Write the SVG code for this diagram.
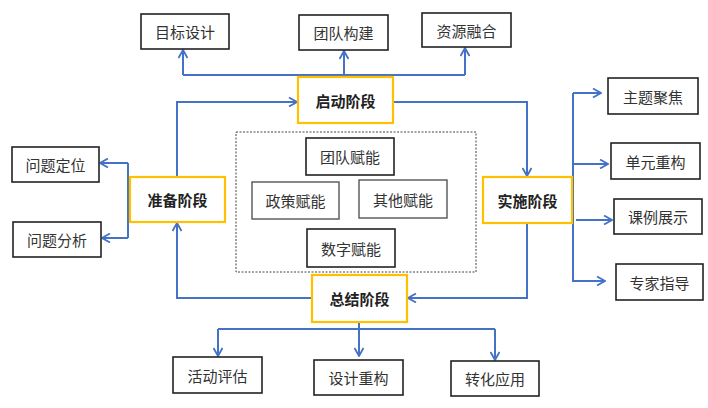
<svg xmlns="http://www.w3.org/2000/svg" width="708" height="408" viewBox="0 0 708 408">
<defs>
<style>
.box{fill:#fff;stroke:#222;stroke-width:1.6}
.gbox{fill:#fff;stroke:#555;stroke-width:1.4}
.stage{fill:#fff;stroke:#FFC000;stroke-width:2.2}
.t{font-family:"Noto Sans CJK SC","Noto Sans",sans-serif;font-size:15px;fill:#333;text-anchor:middle;dominant-baseline:central}
.st{font-family:"Noto Sans CJK SC","Noto Sans",sans-serif;font-size:15px;font-weight:bold;fill:#222;text-anchor:middle;dominant-baseline:central}
.c{fill:none;stroke:#4472C4;stroke-width:2}
.a{marker-end:url(#arr)}
</style>
<marker id="arr" viewBox="0 0 10 10" refX="9" refY="5" markerWidth="10" markerHeight="10" markerUnits="userSpaceOnUse" orient="auto">
<path d="M1,0.5 L9,5 L1,9.5" fill="none" stroke="#4472C4" stroke-width="1.8"/>
</marker>
</defs>
<rect width="708" height="408" fill="#fff"/>
<g id="connectors">
<path class="c" d="M183,75 H465"/>
<path class="c a" d="M183,75 V50"/>
<path class="c a" d="M465,75 V48"/>
<path class="c a" d="M344,77 V51"/>
<path class="c a" d="M177,177 V102 H297"/>
<path class="c a" d="M393,102 H527 V176"/>
<path class="c a" d="M527,223 V298 H408"/>
<path class="c a" d="M312,298 H177 V223"/>
<path class="c" d="M128,163 V238"/>
<path class="c a" d="M128,163 H100"/>
<path class="c a" d="M128,238 H102"/>
<path class="c" d="M573,93 V282"/>
<path class="c a" d="M573,93 H601"/>
<path class="c a" d="M573,164 H608"/>
<path class="c a" d="M576,220 H612"/>
<path class="c a" d="M573,281 H605"/>
<path class="c a" d="M359,322 V356"/>
<path class="c" d="M218,329 H495"/>
<path class="c a" d="M218,329 V356"/>
<path class="c a" d="M495,329 V360"/>
</g>
<rect id="enable-area" x="236" y="132" width="240" height="140" fill="none" stroke="#444" stroke-width="1" stroke-dasharray="2,1.5"/>
<g id="n-mubiao"><rect class="box" x="141" y="14" width="88" height="35"/><text class="t" x="185" y="31.5">目标设计</text></g>
<g id="n-tuandui"><rect class="box" x="299" y="15" width="89" height="35"/><text class="t" x="343.5" y="32.5">团队构建</text></g>
<g id="n-ziyuan"><rect class="box" x="422" y="13" width="89" height="34"/><text class="t" x="466.5" y="30">资源融合</text></g>
<g id="n-qidong"><rect class="stage" x="298" y="77" width="95" height="46"/><text class="st" x="345.5" y="100">启动阶段</text></g>
<g id="n-zhunbei"><rect class="stage" x="130" y="177" width="95" height="45"/><text class="st" x="177.5" y="199.5">准备阶段</text></g>
<g id="n-shishi"><rect class="stage" x="483" y="177" width="89" height="46"/><text class="st" x="527.5" y="200">实施阶段</text></g>
<g id="n-zongjie"><rect class="stage" x="312" y="275" width="95" height="47"/><text class="st" x="359.5" y="298.5">总结阶段</text></g>
<g id="n-dingwei"><rect class="box" x="12" y="147" width="87" height="35"/><text class="t" x="55.5" y="164.5">问题定位</text></g>
<g id="n-fenxi"><rect class="box" x="13" y="222" width="88" height="35"/><text class="t" x="57" y="239.5">问题分析</text></g>
<g id="n-tdfn"><rect class="box" x="306" y="138" width="88" height="37"/><text class="t" x="350" y="156.5">团队赋能</text></g>
<g id="n-zcfn"><rect class="gbox" x="252" y="182" width="87" height="37"/><text class="t" x="295.5" y="200.5">政策赋能</text></g>
<g id="n-qtfn"><rect class="gbox" x="359" y="180" width="88" height="38"/><text class="t" x="403" y="199">其他赋能</text></g>
<g id="n-szfn"><rect class="box" x="307" y="229" width="88" height="38"/><text class="t" x="351" y="248">数字赋能</text></g>
<g id="n-zhuti"><rect class="box" x="608" y="78" width="90" height="36"/><text class="t" x="653" y="96">主题聚焦</text></g>
<g id="n-danyuan"><rect class="box" x="611" y="143" width="89" height="36"/><text class="t" x="655.5" y="161">单元重构</text></g>
<g id="n-keli"><rect class="box" x="614" y="199" width="88" height="35"/><text class="t" x="658" y="216.5">课例展示</text></g>
<g id="n-zhuanjia"><rect class="box" x="616" y="264" width="87" height="36"/><text class="t" x="659.5" y="282">专家指导</text></g>
<g id="n-huodong"><rect class="box" x="173" y="357" width="89" height="36"/><text class="t" x="217.5" y="375">活动评估</text></g>
<g id="n-sheji"><rect class="box" x="314" y="360" width="89" height="35"/><text class="t" x="358.5" y="377.5">设计重构</text></g>
<g id="n-zhuanhua"><rect class="box" x="451" y="361" width="88" height="35"/><text class="t" x="495" y="378.5">转化应用</text></g>
</svg>
